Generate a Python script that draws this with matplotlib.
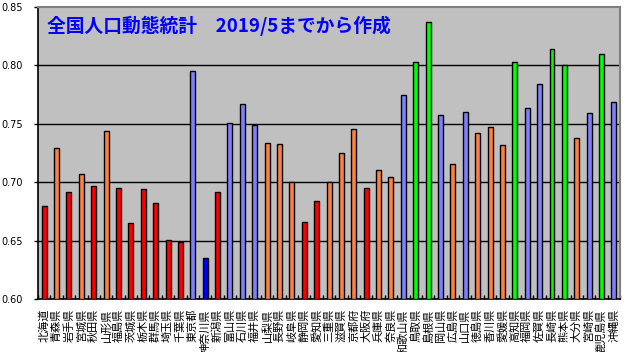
import numpy as np
import matplotlib.pyplot as plt
from matplotlib.ticker import FixedLocator

plt.rcParams['font.family'] = ['Noto Sans CJK JP', 'DejaVu Sans']

## 都道府県と値
prefs = ['北海道', '青森県', '岩手県', '宮城県', '秋田県', '山形県', '福島県', '茨城県',
         '栃木県', '群馬県', '埼玉県', '千葉県', '東京都', '神奈川県', '新潟県', '富山県',
         '石川県', '福井県', '山梨県', '長野県', '岐阜県', '静岡県', '愛知県', '三重県',
         '滋賀県', '京都府', '大阪府', '兵庫県', '奈良県', '和歌山県', '鳥取県', '島根県',
         '岡山県', '広島県', '山口県', '徳島県', '香川県', '愛媛県', '高知県', '福岡県',
         '佐賀県', '長崎県', '熊本県', '大分県', '宮崎県', '鹿児島県', '沖縄県']
vals = [0.680, 0.729, 0.692, 0.707, 0.697, 0.744, 0.695, 0.665,
        0.694, 0.682, 0.651, 0.649, 0.795, 0.635, 0.692, 0.751,
        0.767, 0.749, 0.734, 0.733, 0.700, 0.666, 0.684, 0.700,
        0.725, 0.746, 0.695, 0.711, 0.705, 0.775, 0.803, 0.837,
        0.758, 0.716, 0.760, 0.742, 0.747, 0.732, 0.803, 0.764,
        0.784, 0.814, 0.800, 0.738, 0.759, 0.810, 0.769]
## 色分け r=赤 o=橙 p=薄青 g=緑 b=青
groups = ['r', 'o', 'r', 'o', 'r', 'o', 'r', 'r',
          'r', 'r', 'r', 'r', 'p', 'b', 'r', 'p',
          'p', 'p', 'o', 'o', 'o', 'r', 'r', 'o',
          'o', 'o', 'r', 'o', 'o', 'p', 'g', 'g',
          'p', 'o', 'p', 'o', 'o', 'o', 'g', 'p',
          'p', 'g', 'g', 'o', 'p', 'g', 'p']
cmap = {'r': '#FF0000', 'o': '#FF8040', 'p': '#8080FF', 'g': '#00FF00', 'b': '#0000FF'}
colors = [cmap[g] for g in groups]

x = np.arange(len(prefs))

fig = plt.figure(figsize=(6.27, 3.52), dpi=100)
ax = fig.add_axes([0.0606, 0.1497, 0.9284, 0.8303])
ax.set_facecolor('#C0C0C0')

ax.bar(x, np.array(vals) - 0.6, bottom=0.6, width=0.4, color=colors,
       edgecolor='black', linewidth=1, zorder=3)

ax.set_xlim(-0.5, len(prefs) - 0.5)
ax.set_ylim(0.60, 0.85)
ax.set_yticks([0.60, 0.65, 0.70, 0.75, 0.80, 0.85])
ax.set_yticklabels(['0.60', '0.65', '0.70', '0.75', '0.80', '0.85'],
                   fontsize=7, family='DejaVu Sans')
for yy in [0.65, 0.70, 0.75, 0.80]:
    ax.axhline(yy, color='black', linewidth=1, zorder=1)

ax.set_xticks(x)
ax.set_xticklabels(prefs, rotation=90, fontsize=8, va='top', ha='center')
ax.tick_params(axis='x', length=0, pad=7)
ax.xaxis.set_minor_locator(FixedLocator(np.arange(-0.5, len(prefs), 1)))
ax.tick_params(axis='x', which='minor', direction='in', length=3, width=1, color='black')
ax.tick_params(axis='y', direction='out', length=3, width=1, pad=8)

ax.spines['left'].set_color('black')
ax.spines['bottom'].set_color('black')
ax.spines['left'].set_linewidth(1.2)
ax.spines['bottom'].set_linewidth(1.2)
ax.spines['top'].set_color('#808080')
ax.spines['right'].set_color('#808080')
ax.spines['top'].set_linewidth(1.5)
ax.spines['right'].set_linewidth(1.5)

ax.text(0.016, 0.935, '全国人口動態統計　2019/5までから作成', transform=ax.transAxes,
        color='#0000FF', fontsize=13.5, fontweight='bold', va='center', ha='left', zorder=5)

plt.savefig('out.png')
